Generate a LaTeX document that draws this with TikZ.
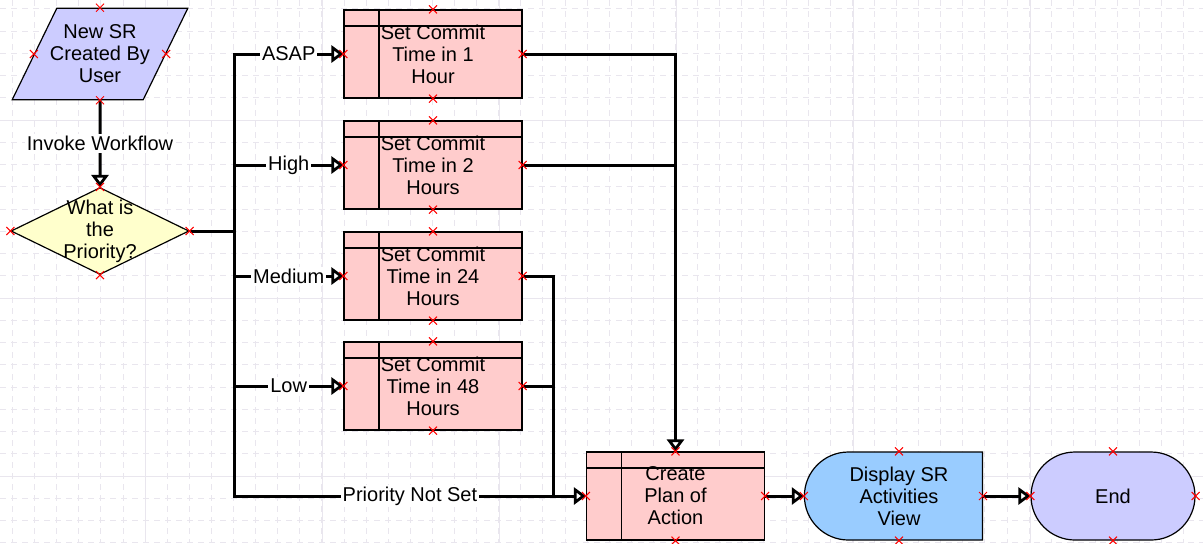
\documentclass[tikz,border=0pt]{standalone}
\usepackage{fontspec}
\setmainfont{Liberation Sans}
\usepackage{xcolor}
\usepackage{tikz}
\usetikzlibrary{arrows.meta,positioning,calc,shapes.geometric,shapes.misc}

\definecolor{gridline}{RGB}{233,230,238}
\definecolor{startfill}{RGB}{204,204,255}
\definecolor{askfill}{RGB}{255,255,204}
\definecolor{taskfill}{RGB}{255,204,204}
\definecolor{viewfill}{RGB}{153,204,255}

\begin{document}
\begin{tikzpicture}[x=0.5pt,y=-0.5pt,font=\fontsize{10}{11}\selectfont,
		minor/.style={gridline,line width=0.5pt,dash pattern=on 3pt off 2.5pt},
		major/.style={gridline,line width=0.5pt},
		shapeline/.style={draw,line width=0.6pt,inner sep=0pt,align=center},
		taskbox/.style={shapeline,fill=taskfill,minimum width=89pt,minimum height=44pt,
			path picture={
				\draw[line width=0.6pt] ([yshift=-8pt]path picture bounding box.north west) -- ([yshift=-8pt]path picture bounding box.north east);
				\draw[line width=0.6pt] ([xshift=17.5pt]path picture bounding box.north west) -- ([xshift=17.5pt]path picture bounding box.south west);
			}},
		flow/.style={line width=1.5pt},
		tip/.tip={Triangle[open,width=8.5pt,length=6pt,line width=1.4pt,fill=white]},
		lbl/.style={fill=white,inner sep=1pt},
		cpt/.style={red,line width=0.5pt}]
		\useasboundingbox (0,0) rectangle (1203,543);
		\fill[white] (0,0) rectangle (1203,543);

		% background grid
		\foreach \gx in {12.5,34.6,...,1203} \draw[minor] (\gx,0) -- (\gx,543);
		\foreach \gy in {8.75,31,...,543} \draw[minor] (0,\gy) -- (1203,\gy);
		\foreach \gx in {145,322,...,1203} \draw[major] (\gx,0) -- (\gx,543);
		\foreach \gy in {120,298,476} \draw[major] (0,\gy) -- (1203,\gy);

		% shapes
		\node[shapeline,fill=startfill,trapezium,trapezium left angle=64,trapezium right angle=116,
			minimum width=88pt,minimum height=44pt,
			label={[align=center]center:New SR\\Created By\\User}] (newsr) at (100,54) {\phantom{x}};
		\node[shapeline,fill=askfill,diamond,minimum width=89pt,minimum height=43.5pt,
			label={[align=center]center:What is\\the\\Priority?}] (prio) at (100,231) {};
		\node[taskbox] (t1) at (433,54) {Set Commit\\Time in 1\\Hour};
		\node[taskbox] (t2) at (433,165) {Set Commit\\Time in 2\\Hours};
		\node[taskbox] (t3) at (433,276) {Set Commit\\Time in 24\\Hours};
		\node[taskbox] (t4) at (433,386) {Set Commit\\Time in 48\\Hours};
		\node[taskbox] (plan) at (675.5,496) {Create\\Plan of\\Action};
		\node[shapeline,fill=viewfill,rounded rectangle,rounded rectangle right arc=none,
			minimum width=89pt,minimum height=44pt] (disp) at (899,496) {Display SR\\Activities\\View};
		\node[shapeline,fill=startfill,rounded rectangle,minimum width=82pt,minimum height=44pt] (finish) at (1113,496) {End};

		\coordinate (fork) at (234,231);
		\coordinate (merge) at (553,496);

		% connectors
		\draw[flow,-tip] (newsr.south) -- node[lbl]{Invoke Workflow} (prio.north);
		\draw[flow] (prio.east) -- (fork);
		\draw[flow,line cap=rect] (fork |- t1.west) -- (fork |- plan.west);
		\draw[flow,-tip] (fork |- t1.west) -- node[lbl]{ASAP} (t1.west);
		\draw[flow,-tip] (fork |- t2.west) -- node[lbl]{High} (t2.west);
		\draw[flow,-tip] (fork |- t3.west) -- node[lbl]{Medium} (t3.west);
		\draw[flow,-tip] (fork |- t4.west) -- node[lbl]{Low} (t4.west);
		\draw[flow,-tip] (fork |- plan.west) -- node[lbl]{Priority Not Set} (plan.west);
		\draw[flow,-tip] (t1.east) -| (plan.north);
		\draw[flow] (t2.east) -- (t2.east -| plan.north);
		\draw[flow] (t3.east) -| (merge);
		\draw[flow] (t4.east) -- (t4.east -| merge);
		\draw[flow,-tip] (plan.east) -- (disp.west);
		\draw[flow,-tip] (disp.east) -- (finish.west);

		% connection points
		\foreach \n in {newsr,prio,t1,t2,t3,t4,plan,disp,finish}
			\foreach \a in {north,south,east,west}
				\draw[cpt] (\n.\a) +(-2pt,-2pt) -- +(2pt,2pt) +(-2pt,2pt) -- +(2pt,-2pt);
	\end{tikzpicture}
\end{document}
